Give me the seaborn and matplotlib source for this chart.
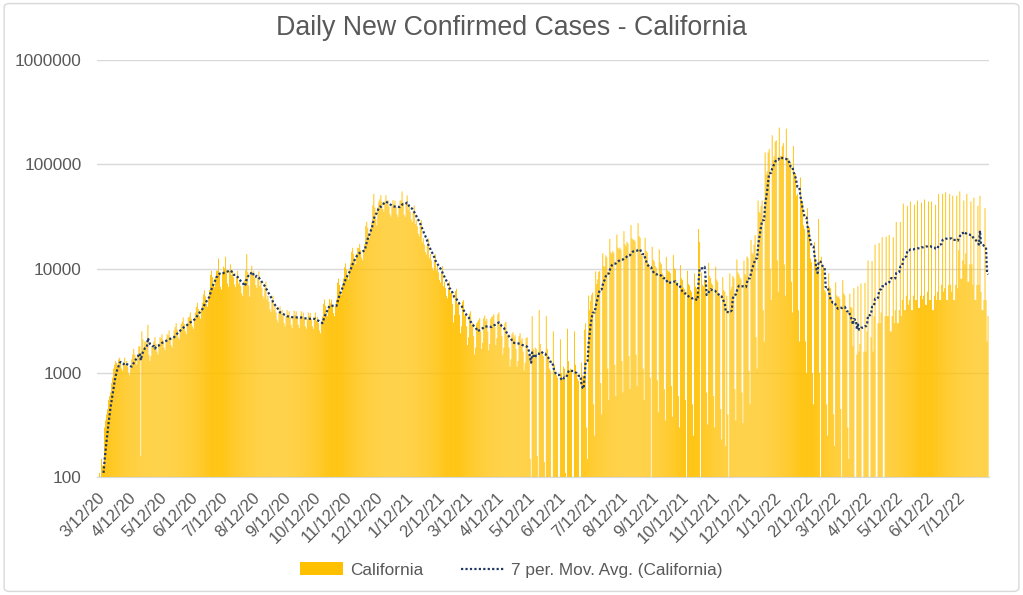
# california_daily_cases.py
# Daily new confirmed COVID-19 cases for California with a 7 day moving average

import pandas as pd
import matplotlib
matplotlib.use("Agg")
import matplotlib.pyplot as plt
import seaborn as sns
from matplotlib.lines import Line2D
from matplotlib.patches import Patch, FancyBboxPatch
from matplotlib.ticker import NullLocator

start_date = "2020-03-12"

# daily values, one row per week (rows start on a Thursday)
cases_2020 = [
    60, 90, 110, 100, 150, 130, 130,
    300, 350, 400, 450, 550, 600, 650,
    800, 900, 1100, 1200, 1300, 1250, 1150,
    1350, 1400, 1250, 1100, 1050, 1200, 1400,
    1200, 1300, 1150, 1000, 950, 1100, 1350,
    1500, 1700, 1500, 1300, 1200, 1500, 1800,
    1800, 160, 2500, 2100, 1700, 2000, 2000,
    1900, 2900, 1500, 1300, 1450, 1800, 1750,
    2000, 2200, 1900, 1600, 1500, 1900, 2200,
    2150, 2350, 2050, 1750, 1650, 2050, 2350,
    2300, 2550, 2200, 1850, 1750, 2200, 2550,
    2750, 3000, 2600, 2200, 2100, 2600, 2950,
    3100, 3400, 2950, 2500, 2350, 2950, 3400,
    3450, 3800, 3300, 2800, 2650, 3300, 3800,
    4300, 4700, 4100, 3500, 3300, 4100, 4700,
    5650, 6200, 5400, 4600, 4300, 5400, 6250,
    8700, 9550, 8300, 7050, 6650, 8300, 9550,
    9550, 12500, 9100, 6700, 6300, 9100, 10450,
    10100, 13000, 9600, 7200, 6700, 9600, 11000,
    8700, 9550, 8300, 7050, 6650, 8300, 9550,
    7150, 7800, 6800, 5800, 5450, 6800, 7800,
    9750, 13800, 9300, 6900, 5400, 9300, 10650,
    8600, 9450, 8200, 6950, 6550, 8200, 9450,
    6800, 7500, 6500, 5500, 5200, 6500, 7500,
    5050, 5500, 4800, 4100, 3850, 4800, 5500,
    4000, 4350, 3800, 3250, 3050, 3800, 4350,
    3700, 4000, 3500, 3000, 2800, 3500, 4000,
    3550, 3900, 3400, 2900, 2700, 3400, 3950,
    3600, 3900, 3400, 2900, 2700, 3400, 3900,
    3450, 3800, 3300, 2800, 2650, 3300, 3800,
    3500, 3750, 3300, 2800, 2650, 3300, 3800,
    3150, 3450, 3000, 2550, 2400, 3000, 3450,
    4600, 5050, 4400, 3750, 3500, 4400, 5100,
    4650, 5050, 4400, 3750, 3500, 4400, 5050,
    7350, 8050, 7000, 5950, 5600, 7000, 8050,
    10300, 11250, 9800, 8350, 7850, 9800, 11250,
    14500, 15850, 13800, 11750, 11050, 13800, 15850,
    15750, 17250, 15000, 12750, 12000, 15000, 17250,
    25700, 28200, 24500, 20800, 19600, 24500, 28200,
    40400, 52000, 38500, 30000, 26000, 38500, 44100,
    46200, 50600, 44000, 37400, 35200, 44000, 50600,
    41500, 45400, 39500, 33600, 31600, 39500, 45400,
    40950, 44850, 39000, 33150, 31200, 39000, 44850,
]

cases_2021 = [
    45150, 55000, 43000, 33000, 31400, 43000, 50450,
    36750, 40250, 35000, 29750, 28000, 35000, 40250,
    26800, 29300, 25500, 21700, 20400, 25500, 29300,
    17850, 19550, 17000, 14450, 13600, 17000, 19550,
    12600, 13800, 12000, 10200, 9600, 12000, 13800,
    9650, 10600, 9200, 7800, 7350, 9200, 10600,
    6800, 7500, 6500, 5500, 5200, 6500, 7500,
    5850, 6100, 4600, 3050, 3600, 6100, 6400,
    4600, 4800, 3600, 2400, 2800, 4800, 5000,
    3550, 3700, 2800, 1850, 2200, 3700, 3900,
    2900, 3000, 2250, 1500, 1750, 3000, 3100,
    3200, 3350, 2500, 1700, 1950, 3350, 3550,
    3150, 3300, 2500, 1650, 1900, 3300, 3450,
    3500, 3650, 2750, 1850, 2150, 3650, 3800,
    2900, 3000, 2250, 1500, 1750, 3000, 3100,
    2250, 2350, 1750, 1150, 1350, 2350, 2450,
    2200, 2300, 1700, 1150, 1300, 2250, 2400,
    2050, 2150, 1600, 1050, 1250, 2150, 2200,
    1500, 1450, 150, 70, 3500, 1700, 1400,
    1750, 1700, 160, 80, 4000, 1900, 1600,
    1550, 1450, 140, 70, 3500, 1700, 1400,
    1100, 1050, 100, 50, 2500, 1200, 1000,
    950, 900, 90, 40, 2100, 1000, 870,
    1150, 1100, 110, 50, 2650, 1300, 1060,
    1100, 1050, 100, 50, 2500, 1200, 1000,
    880, 840, 70, 40, 1260, 950, 900,
    2600, 3000, 300, 150, 5500, 4000, 4900,
    5600, 5900, 500, 250, 9400, 7100, 7900,
    9300, 9500, 800, 400, 14000, 10600, 10400,
    13400, 12800, 1100, 550, 19300, 14400, 13900,
    14750, 14150, 1200, 600, 21250, 15900, 15350,
    15900, 15250, 1300, 650, 22850, 17150, 16450,
    18100, 17400, 1450, 700, 26100, 19600, 18850,
    19000, 18250, 1500, 750, 27350, 20500, 19800,
    13750, 13200, 1100, 550, 19800, 14850, 14300,
    11250, 10800, 900, 0, 16200, 12150, 11700,
    10600, 10200, 850, 420, 15300, 11500, 11050,
    9000, 8650, 700, 350, 12950, 9700, 9400,
    9400, 9000, 750, 380, 13500, 10100, 9750,
    7500, 7200, 600, 300, 10800, 8100, 7800,
    6600, 6350, 550, 0, 9550, 7150, 6900,
    6250, 6000, 500, 250, 9000, 6750, 6500,
    6000, 24000, 18000, 0, 9200, 7000, 6800,
    7900, 7550, 650, 320, 11350, 8500, 8150,
    7250, 6950, 600, 300, 10450, 7850, 7500,
    5750, 5500, 450, 230, 8300, 6200, 6000,
    200, 5500, 400, 0, 9000, 6200, 6700,
    8500, 8150, 700, 350, 12250, 9200, 8800,
    8250, 7900, 650, 330, 11900, 8900, 8600,
    13100, 12600, 1050, 500, 18900, 14200, 13650,
    17000, 21000, 2200, 1100, 45000, 35000, 34000,
    40000, 45000, 4000, 2000, 130000, 80000, 86000,
]

cases_2022 = [
    130000, 140000, 10000, 5000, 190000, 110000, 120000,
    165000, 170000, 12000, 6000, 225000, 120000, 120000,
    150000, 160000, 11000, 5500, 220000, 115000, 114000,
    100000, 105000, 7500, 3800, 150000, 80000, 82500,
    50000, 52000, 4000, 2000, 75000, 46000, 42500,
    26000, 24000, 2000, 1000, 38000, 25000, 25000,
    12500, 11500, 1000, 500, 18000, 12500, 11000,
    9000, 30000, 1000, 0, 13000, 10000, 10500,
    6250, 6000, 500, 250, 9000, 6750, 6500,
    5100, 4900, 400, 200, 7400, 5550, 5350,
    5400, 5150, 450, 0, 7750, 5800, 5550,
    4000, 3850, 300, 150, 5750, 4300, 4200,
    1800, 6500, 0, 0, 1500, 6800, 1600,
    1900, 7200, 0, 0, 1600, 7300, 1600,
    2500, 12000, 0, 0, 2200, 11800, 1600,
    3500, 17000, 0, 0, 3000, 17600, 3000,
    3800, 20000, 0, 0, 3500, 20300, 3500,
    3500, 21000, 2500, 2500, 3500, 20000, 3000,
    4000, 28000, 3000, 3000, 4000, 28000, 3500,
    5000, 42000, 4000, 4000, 5500, 40000, 4500,
    5000, 44000, 4000, 4000, 5500, 41000, 5000,
    5000, 45000, 4200, 4200, 5500, 43000, 5100,
    5500, 46000, 4500, 4500, 6000, 44000, 5000,
    5000, 44000, 4000, 4000, 5500, 41000, 5000,
    6000, 52000, 5000, 5000, 7000, 52000, 6000,
    6500, 54000, 5000, 5000, 7000, 52000, 7000,
    6000, 50000, 5000, 5000, 7000, 50000, 6500,
    15000, 55000, 8000, 8000, 12000, 45000, 11000,
    14000, 52000, 7500, 7500, 11000, 44000, 11000,
    7000, 48000, 5000, 5000, 7000, 40000, 7000,
    50000, 6000, 4000, 4000, 5000, 38000, 5000,
    2000, 3500,
]

tick_labels = [
    "3/12/20", "4/12/20", "5/12/20", "6/12/20", "7/12/20", "8/12/20",
    "9/12/20", "10/12/20", "11/12/20", "12/12/20", "1/12/21", "2/12/21",
    "3/12/21", "4/12/21", "5/12/21", "6/12/21", "7/12/21", "8/12/21",
    "9/12/21", "10/12/21", "11/12/21", "12/12/21", "1/12/22", "2/12/22",
    "3/12/22", "4/12/22", "5/12/22", "6/12/22", "7/12/22",
]
y_ticks = [100, 1000, 10000, 100000, 1000000]

cases = cases_2020 + cases_2021 + cases_2022
df = pd.DataFrame({"date": pd.date_range(start_date, periods=len(cases)), "cases": cases})
df["day"] = (df["date"] - df["date"].iloc[0]).dt.days
df["ma7"] = df["cases"].rolling(7).mean()

gold = "#FFC000"
navy = "#1F3864"
grey_text = "#595959"
grey_line = "#D9D9D9"

sns.set_style("white")
plt.rcParams["font.family"] = ["Liberation Sans", "DejaVu Sans"]

fig, ax = plt.subplots(figsize=(10.23, 5.95), dpi=100)
fig.subplots_adjust(left=0.0948, right=0.9668, top=0.899, bottom=0.198)

bars = df[df["cases"] > 0]
sns.barplot(data=bars, x="day", y="cases", native_scale=True, color=gold,
            saturation=1, width=0.9, errorbar=None, linewidth=0, ax=ax)
# let thin bars blend like the original rendering instead of snapping to pixels
for bar in ax.patches:
    bar.set_snap(False)
sns.lineplot(data=df, x="day", y="ma7", color=navy, linewidth=1.6,
             linestyle=(0, (1, 1)), ax=ax)

ax.set_yscale("log")
ax.set_ylim(100, 1000000)
ax.set_xlim(-0.5, len(cases))
ax.yaxis.set_minor_locator(NullLocator())
ax.set_yticks(y_ticks)
ax.set_yticklabels([str(v) for v in y_ticks])

tick_days = (pd.to_datetime(tick_labels, format="%m/%d/%y") - pd.Timestamp(start_date)).days
ax.set_xticks(tick_days)
ax.set_xticklabels(tick_labels, rotation=45, ha="right", rotation_mode="anchor")
ax.xaxis.set_minor_locator(NullLocator())

ax.set_xlabel("")
ax.set_ylabel("")
ax.set_axisbelow(True)
ax.yaxis.grid(True, color=grey_line, linewidth=1)
ax.xaxis.grid(False)
for side in ["left", "top", "right"]:
    ax.spines[side].set_visible(False)
ax.spines["bottom"].set_color(grey_line)
ax.tick_params(axis="y", length=0, labelsize=12.4, labelcolor=grey_text, pad=11)
ax.tick_params(axis="x", length=4, width=1, color=grey_line, labelsize=12,
               labelcolor=grey_text, pad=5)

fig.suptitle("Daily New Confirmed Cases - California", x=0.5, y=0.953, va="center",
             fontsize=19.3, color=grey_text)

handles = [Patch(facecolor=gold, edgecolor="none"),
           Line2D([], [], color=navy, linewidth=1.6, linestyle=(0, (1, 1)))]
fig.legend(handles, ["California", "7 per. Mov. Avg. (California)"], loc="center",
           bbox_to_anchor=(0.5, 0.042), ncol=2, frameon=False, fontsize=12.4,
           labelcolor=grey_text, handlelength=2.5, handletextpad=0.4, columnspacing=2.2)

fig.patches.append(FancyBboxPatch((0.004, 0.006), 0.992, 0.988,
                                  boxstyle="round,pad=0,rounding_size=0.006",
                                  transform=fig.transFigure, fill=False,
                                  edgecolor=grey_line, linewidth=1))

fig.savefig("out.png", dpi=100)
